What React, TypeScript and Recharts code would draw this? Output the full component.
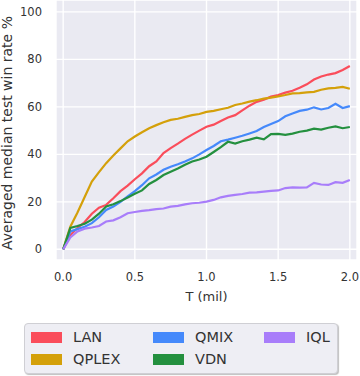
import { LineChart, Line, XAxis, YAxis, CartesianGrid } from 'recharts'

// training steps (millions)
const steps = [
  0, 0.05, 0.1, 0.15, 0.2, 0.25, 0.3, 0.35, 0.4, 0.45, 0.5, 0.55, 0.6, 0.65, 0.7, 0.75, 0.8, 0.85, 0.9, 0.95, 1.0,
  1.05, 1.1, 1.15, 1.2, 1.25, 1.3, 1.35, 1.4, 1.45, 1.5, 1.55, 1.6, 1.65, 1.7, 1.75, 1.8, 1.85, 1.9, 1.95, 2.0,
]

const lan = [
  0, 6, 9, 11.5, 15, 17.5, 18.7, 21.5, 24.5, 26.8, 29.5, 32, 35, 37, 40.5, 42.6, 44.5, 46.5, 48.3, 50, 51.6,
  52.5, 54, 55.5, 56.5, 58.5, 60.5, 62.1, 63, 64.3, 65, 66, 66.8, 68, 69.5, 71.5, 72.8, 73.6, 74.2, 75.5, 77.2,
]
const qplex = [
  0, 9.5, 15.5, 22, 28.5, 32.5, 36.3, 39.5, 42.5, 45.5, 47.5, 49.3, 51, 52.3, 53.5, 54.5, 55, 55.8, 56.5, 57, 57.9,
  58.3, 59, 59.6, 60.8, 61.4, 62.2, 62.8, 63.5, 63.9, 64.4, 65, 65.7, 65.8, 66.1, 66.3, 67.2, 67.8, 68, 68.4, 67.6,
]
const qmix = [
  0, 7.5, 8.5, 9.5, 11, 13.5, 16.6, 18, 20, 22.3, 24.5, 27, 29.9, 31.5, 33.5, 34.8, 35.8, 37, 38.3, 40, 41.8,
  43.5, 45.5, 46.2, 47, 47.8, 48.8, 49.8, 51.5, 52.8, 54, 56, 57.2, 58.3, 58.8, 59.8, 58.9, 59.5, 61.3, 59.5, 60.3,
]
const vdn = [
  0, 9, 9.8, 10.8, 12.5, 15, 18, 19, 20.3, 21.8, 23.4, 24.8, 27.5, 29.2, 31.3, 32.7, 34, 35.6, 37, 37.8, 39,
  41, 43, 45.3, 44.5, 45.5, 46.2, 47, 46.3, 48.5, 48.6, 48.2, 48.7, 49.5, 50, 50.8, 50.4, 51.2, 51.8, 51, 51.5,
]
const iql = [
  0, 5, 7.5, 8.7, 9.2, 9.8, 11.7, 12.2, 13.5, 15.2, 15.7, 16.2, 16.5, 16.9, 17.2, 18, 18.3, 18.9, 19.4, 19.6, 20.1,
  20.8, 21.9, 22.5, 22.9, 23.3, 23.9, 24, 24.3, 24.6, 24.8, 25.8, 26.1, 26, 26.1, 28, 27.3, 27.1, 28.3, 28, 29.2,
]

const xTicks = [0, 0.5, 1, 1.5, 2]
const yTicks = [0, 20, 40, 60, 80, 100]

const SERIES = [
  { key: 'LAN', values: lan, color: '#fa4d5b' },
  { key: 'QPLEX', values: qplex, color: '#d4a00a' },
  { key: 'QMIX', values: qmix, color: '#4589fb' },
  { key: 'VDN', values: vdn, color: '#24903f' },
  { key: 'IQL', values: iql, color: '#a87dfa' },
]

// matplotlib-style legend, filled column by column (3 columns)
const LEGEND_ORDER = [
  ['LAN', 'QPLEX'],
  ['QMIX', 'VDN'],
  ['IQL'],
]

const FONT = '"DejaVu Sans", sans-serif'
const TEXT = '#333'

const data = steps.map((t, i) => {
  const row: Record<string, number> = { t }
  SERIES.forEach((s) => (row[s.key] = s.values[i]))
  return row
})

function ChartLegend() {
  const colX = [6, 128, 239]
  return (
    <div
      style={{
        position: 'absolute',
        left: 24,
        top: 323,
        width: 312,
        height: 49,
        background: '#eeeef4',
        border: '1px solid #cfcfd4',
        borderRadius: 4,
        boxShadow: '1px 1px 1px rgba(0,0,0,0.25)',
        fontFamily: FONT,
        fontSize: 14.5,
        color: TEXT,
      }}
    >
      {LEGEND_ORDER.map((col, ci) =>
        col.map((name, ri) => {
          const s = SERIES.find((x) => x.key === name)!
          return (
            <div
              key={name}
              style={{ position: 'absolute', left: colX[ci], top: 4 + ri * 22, height: 18, display: 'flex', alignItems: 'center' }}
            >
              <span style={{ display: 'inline-block', width: 31, height: 11, background: s.color }} />
              <span style={{ marginLeft: 11 }}>{name}</span>
            </div>
          )
        })
      )}
    </div>
  )
}

export default function App() {
  return (
    <div style={{ position: 'absolute', left: 0, top: 0, width: 360, height: 376, background: '#fff' }}>
      <LineChart width={360} height={376} data={data} margin={{ top: 0, right: 3, bottom: 72, left: 6 }}>
        <CartesianGrid fill="#eaeaf2" stroke="#fff" strokeWidth={1.4} />
        <XAxis
          dataKey="t"
          type="number"
          domain={[-0.05, 2.05]}
          ticks={xTicks}
          allowDataOverflow
          axisLine={false}
          tickLine={false}
          tickSize={0}
          tickMargin={13}
          height={44}
          tickFormatter={(v: number) => v.toFixed(1)}
          tick={{ fontFamily: FONT, fontSize: 11.5, fill: TEXT }}
          label={{ value: 'T (mil)', position: 'insideBottom', offset: 3, fontFamily: FONT, fontSize: 13, fill: TEXT }}
        />
        <YAxis
          type="number"
          domain={[-4.5, 105]}
          ticks={yTicks}
          allowDataOverflow
          axisLine={false}
          tickLine={false}
          tickSize={0}
          tickMargin={14}
          width={50}
          tick={{ fontFamily: FONT, fontSize: 11.5, fill: TEXT }}
          label={{
            content: () => (
              <text
                transform="translate(12,133) rotate(-90)"
                textAnchor="middle"
                fontFamily={FONT}
                fontSize={14}
                fill={TEXT}
              >
                Averaged median test win rate %
              </text>
            ),
          }}
        />
        {SERIES.map((s) => (
          <Line
            key={s.key}
            dataKey={s.key}
            stroke={s.color}
            strokeWidth={2.2}
            dot={false}
            isAnimationActive={false}
          />
        ))}
      </LineChart>
      <ChartLegend />
    </div>
  )
}
